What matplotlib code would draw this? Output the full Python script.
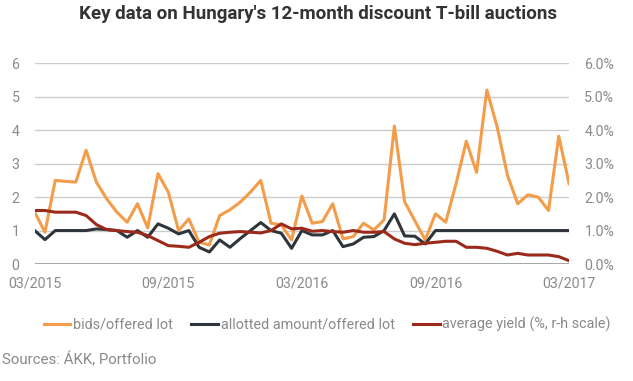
import matplotlib.pyplot as plt
import numpy as np

# Auction-by-auction values (bi-weekly), 03/2015 - 03/2017
tick_labels = ['03/2015', '09/2015', '03/2016', '09/2016', '03/2017']
tick_every = 13

bids = [1.55, 0.95, 2.5, 2.47, 2.45, 3.4, 2.45, 1.95, 1.55, 1.25,
        1.8, 1.08, 2.7, 2.15, 1.0, 1.35, 0.65, 0.57, 1.45, 1.62,
        1.85, 2.15, 2.5, 1.22, 1.17, 0.72, 2.03, 1.22, 1.27, 1.8,
        0.75, 0.82, 1.22, 1.02, 1.32, 4.12, 1.86, 1.29, 0.72, 1.5,
        1.25, 2.4, 3.67, 2.74, 5.2, 4.1, 2.66, 1.8, 2.07, 2.0,
        1.6, 3.82, 2.4]
allotted = [1.0, 0.73, 1.0, 1.0, 1.0, 1.0, 1.05, 1.03, 1.0, 0.8,
            1.0, 0.8, 1.2, 1.07, 0.9, 1.0, 0.5, 0.36, 0.72, 0.5,
            0.76, 1.0, 1.24, 1.0, 0.92, 0.47, 1.0, 0.87, 0.87, 1.0,
            0.52, 0.6, 0.8, 0.82, 1.0, 1.5, 0.84, 0.83, 0.6, 1.0,
            1.0, 1.0, 1.0, 1.0, 1.0, 1.0, 1.0, 1.0, 1.0, 1.0,
            1.0, 1.0, 1.0]
avg_yield = [1.6, 1.6, 1.55, 1.55, 1.55, 1.45, 1.18, 1.03, 1.0, 0.97,
             0.95, 0.85, 0.7, 0.55, 0.53, 0.5, 0.65, 0.82, 0.92, 0.95,
             0.97, 0.95, 0.93, 1.0, 1.2, 1.05, 1.07, 0.98, 1.0, 0.97,
             0.95, 1.0, 0.95, 0.95, 0.97, 0.75, 0.62, 0.58, 0.62, 0.65,
             0.68, 0.68, 0.5, 0.5, 0.47, 0.38, 0.27, 0.32, 0.27, 0.27,
             0.27, 0.22, 0.1]

ORANGE = '#f39c4a'
DARK = '#2f353b'
RED = '#9b2a1b'
GREY = '#8a8a8a'

plt.rcParams['font.family'] = ['Roboto', 'DejaVu Sans']

fig = plt.figure(figsize=(6.33, 3.81), dpi=100)
ax = fig.add_axes([0.0548, 0.307, 0.8442, 0.527])
ax2 = ax.twinx()

x = np.arange(len(bids))
ax.plot(x, bids, color=ORANGE, lw=2.2, label='bids/offered lot', zorder=3)
ax.plot(x, allotted, color=DARK, lw=2.2, label='allotted amount/offered lot', zorder=4)
ax2.plot(x, avg_yield, color=RED, lw=2.2, label='average yield (%, r-h scale)', zorder=5)

ax.set_xlim(0, len(bids) - 1)
ax.set_ylim(0, 6)
ax2.set_ylim(0, 6)
ax.set_yticks(range(7))
ax2.set_yticks(range(7))
ax2.set_yticklabels([f'{v:.1f}%' for v in range(7)])
ax.set_xticks(x[::tick_every])
ax.set_xticklabels(tick_labels)

ax.grid(axis='y', color='#cccccc', lw=1)
ax.set_axisbelow(True)
for a in (ax, ax2):
    for s in ('top', 'left', 'right', 'bottom'):
        a.spines[s].set_visible(False)
    a.tick_params(length=0, colors=GREY, labelsize=10.2)
ax.axhline(0, color='#999999', lw=1.2, zorder=2)
ax.tick_params(axis='y', pad=11)
ax2.tick_params(axis='y', pad=11)
ax.tick_params(axis='x', pad=9)

fig.text(0.502, 0.963, "Key data on Hungary's 12-month discount T-bill auctions",
         ha='center', va='center', fontsize=13.5, fontweight='bold', color='#333333')

handles = ax.get_lines()[:2] + ax2.get_lines()
fig.legend(handles, [h.get_label() for h in handles], loc='center',
           bbox_to_anchor=(0.517, 0.148), ncol=3, frameon=False,
           fontsize=10.4, handlelength=1.85, handletextpad=0.2, columnspacing=1.25,
           labelcolor=GREY)

fig.text(0.003, 0.055, 'Sources: ÁKK, Portfolio', ha='left', va='center',
         fontsize=10.8, color=GREY)

fig.savefig('out.png', dpi=100)
